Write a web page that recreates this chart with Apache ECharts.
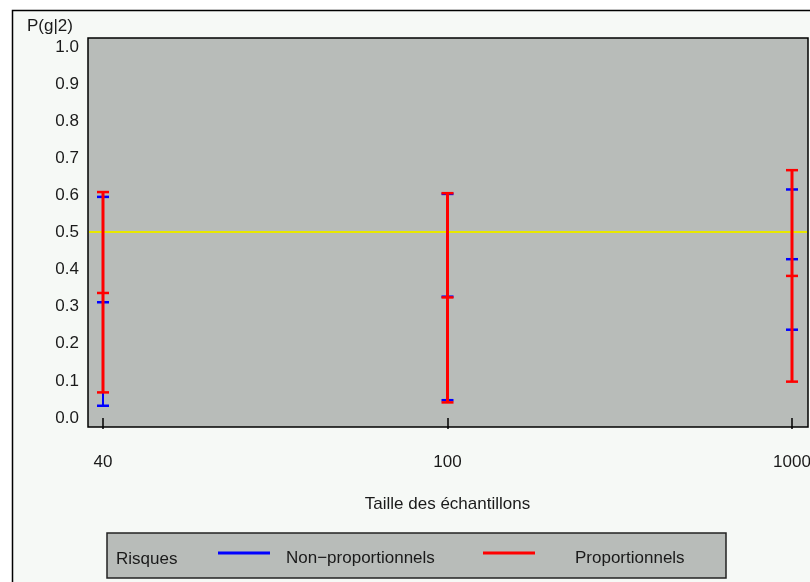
<!DOCTYPE html>
<html>
<head>
<meta charset="utf-8">
<script src="https://cdn.jsdelivr.net/npm/echarts@6/dist/echarts.min.js"></script>
<style>
  html, body { margin: 0; padding: 0; background: #fff; }
  #chart { width: 810px; height: 582px; }
</style>
</head>
<body>
<div id="chart"></div>
<script>
// sample sizes on the x axis
const categories = ["40", "100", "1000"]

// non-proportional risks: low / mid / high
const nonPropLow = [0.033, 0.048, 0.238]
const nonPropMid = [0.312, 0.327, 0.428]
const nonPropHigh = [0.596, 0.604, 0.616]

// proportional risks: low / mid / high
const propLow = [0.069, 0.042, 0.098]
const propMid = [0.337, 0.325, 0.383]
const propHigh = [0.609, 0.606, 0.668]

const refLine = 0.5

const font = '"Liberation Sans", Arial, sans-serif'
const textColor = "#1a1a1a"
const plotFill = "#b8bcb9"
const frameFill = "#f6f9f6"

// legend swatch: 3px line at the top, tiny speck at the bottom so the text sits lower
const swatch = "path://M0,0H52V3H0Z M0,13.99H0.01V14H0Z"

function toBars(low, mid, high) {
  return categories.map((c, i) => [i, low[i], mid[i], high[i]])
}

function renderBar(color, stemWidth) {
  return (params, api) => {
    const x = api.value(0)
    const lo = api.coord([x, api.value(1)])
    const md = api.coord([x, api.value(2)])
    const hi = api.coord([x, api.value(3)])
    const cap = (p) => ({
      type: "line",
      shape: { x1: p[0] - 6, y1: p[1], x2: p[0] + 6, y2: p[1] },
      style: { stroke: color, lineWidth: 2.5 },
    })
    return {
      type: "group",
      children: [
        {
          type: "line",
          shape: { x1: lo[0], y1: lo[1], x2: hi[0], y2: hi[1] },
          style: { stroke: color, lineWidth: stemWidth },
        },
        cap(lo),
        cap(md),
        cap(hi),
      ],
    }
  }
}

const chart = echarts.init(document.getElementById("chart"), null, { renderer: "canvas" })

const legendText = { fontSize: 17, color: textColor, fontFamily: font }

chart.setOption({
  backgroundColor: "#ffffff",
  animation: false,
  textStyle: { fontFamily: font },
  grid: { left: 103, right: 18, top: 47, bottom: 164, show: false, outerBoundsMode: "none", containLabel: false },
  xAxis: {
    type: "category",
    data: categories,
    boundaryGap: false,
    offset: 9,
    axisLine: { show: false },
    axisTick: { length: 11, lineStyle: { color: "#000", width: 1.5 } },
    axisLabel: { margin: 27, fontSize: 17, color: textColor, fontFamily: font },
    splitLine: { show: false },
    name: "Taille des échantillons",
    nameLocation: "middle",
    nameGap: 69,
    nameTextStyle: { fontSize: 17, color: textColor, fontFamily: font },
  },
  yAxis: {
    type: "value",
    min: 0,
    max: 1,
    interval: 0.1,
    offset: 15,
    axisLine: { show: false },
    axisTick: { length: 5, lineStyle: { color: "#000", width: 1.5 } },
    axisLabel: {
      margin: 9,
      fontSize: 17,
      color: textColor,
      fontFamily: font,
      formatter: (v) => v.toFixed(1),
    },
    splitLine: { show: false },
  },
  legend: [
    {
      data: ["Non−proportionnels"],
      left: 218,
      top: 550,
      padding: 0,
      icon: swatch,
      itemWidth: 52,
      itemHeight: 14,
      selectedMode: false,
      textStyle: { ...legendText, padding: [0, 0, 0, 11] },
    },
    {
      data: ["Proportionnels"],
      left: 483,
      top: 550,
      padding: 0,
      icon: swatch,
      itemWidth: 52,
      itemHeight: 14,
      selectedMode: false,
      textStyle: { ...legendText, padding: [0, 0, 0, 35] },
    },
  ],
  graphic: {
    elements: [
      {
        id: "frame",
        type: "rect",
        z: -20,
        shape: { x: 12.5, y: 10.5, width: 820, height: 600 },
        style: { fill: frameFill, stroke: "#000", lineWidth: 1.5 },
      },
      {
        id: "plot",
        type: "rect",
        z: -10,
        shape: { x: 88, y: 38, width: 720, height: 389 },
        style: { fill: plotFill, stroke: "#000", lineWidth: 1.5 },
      },
      {
        id: "legendBox",
        type: "rect",
        z: -10,
        shape: { x: 107, y: 533, width: 619, height: 45 },
        style: { fill: plotFill, stroke: "#222", lineWidth: 1.5 },
      },
      {
        id: "legendTitle",
        type: "text",
        left: 116,
        top: 551,
        style: { text: "Risques", fontSize: 17, fill: textColor, fontFamily: font },
      },
      {
        id: "yTitle",
        type: "text",
        left: 27,
        top: 18,
        style: { text: "P(g|2)", fontSize: 17, fill: textColor, fontFamily: font },
      },
    ],
  },
  series: [
    {
      name: "Non−proportionnels",
      type: "custom",
      itemStyle: { color: "#0000ff" },
      renderItem: renderBar("#0000ff", 2),
      data: toBars(nonPropLow, nonPropMid, nonPropHigh),
      z: 3,
    },
    {
      name: "Proportionnels",
      type: "custom",
      itemStyle: { color: "#ff0000" },
      renderItem: renderBar("#ff0000", 3),
      data: toBars(propLow, propMid, propHigh),
      z: 4,
    },
  ],
})

// horizontal reference line across the whole plot box
const refY = Math.floor(chart.convertToPixel({ yAxisIndex: 0 }, refLine))
chart.setOption({
  graphic: {
    elements: [
      {
        id: "refLine",
        type: "line",
        z: 1,
        shape: { x1: 89, y1: refY, x2: 807, y2: refY },
        style: { stroke: "#e8e800", lineWidth: 2 },
      },
    ],
  },
})
</script>
</body>
</html>
